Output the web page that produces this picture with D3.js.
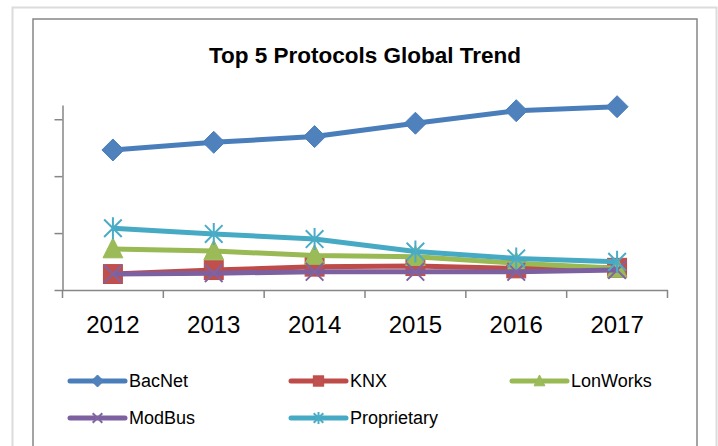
<!DOCTYPE html>
<html>
<head>
<meta charset="utf-8">
<script src="https://cdn.jsdelivr.net/npm/d3@7"></script>
<style>
  body { margin: 0; background: #fff; }
  text { font-family: "Liberation Sans", Arial, sans-serif; fill: #000; }
</style>
</head>
<body>
<script>
// data
var years = ["2012", "2013", "2014", "2015", "2016", "2017"]
var seriesNames = ["BacNet", "KNX", "LonWorks", "ModBus", "Proprietary"]
var bacnet = [49.2, 51.9, 53.9, 58.6, 63.0, 64.4]
var knx = [5.6, 7.0, 8.2, 8.4, 7.6, 7.8]
var lonworks = [14.4, 13.7, 12.1, 11.7, 9.4, 7.6]
var modbus = [5.6, 5.9, 6.4, 6.4, 6.4, 7.0]
var proprietary = [21.7, 19.7, 17.9, 13.5, 11.1, 9.9]
var yTicks = [0, 20, 40, 60]

var lineColors = ["#4a7ebb", "#be4b48", "#98b954", "#7d60a0", "#46aac5"]
var fillColors = ["#4f81bd", "#c0504d", "#9bbb59", "#8064a2", "#4bacc6"]
var markers = ["diamond", "square", "triangle", "x", "star"]

var width = 718, height = 446

var svg = d3.select("body").append("svg")
    .attr("width", width)
    .attr("height", height)

// frames
svg.append("rect")
    .attr("x", 12.5).attr("y", 7.5)
    .attr("width", 704).attr("height", 470)
    .attr("fill", "#fff")
    .attr("stroke", "#dcdcdc").attr("stroke-width", 2)
svg.append("rect")
    .attr("x", 33).attr("y", 19)
    .attr("width", 664).attr("height", 460)
    .attr("fill", "#fff")
    .attr("stroke", "#868686").attr("stroke-width", 1.5)

svg.append("text")
    .attr("x", 365).attr("y", 63)
    .attr("text-anchor", "middle")
    .attr("font-size", "22.5px")
    .attr("font-weight", "bold")
    .text("Top 5 Protocols Global Trend")

var x = d3.scaleBand().domain(years).range([62.5, 667.5]).padding(0)
var y = d3.scaleLinear().domain([0, 65]).range([290, 105])

var axisColor = "#868686"

var yAxis = svg.append("g")
    .attr("transform", "translate(62.5,0)")
    .call(d3.axisLeft(y).tickValues(yTicks).tickSize(8).tickSizeOuter(0).tickFormat(""))
yAxis.selectAll("path, line").attr("stroke", axisColor).attr("stroke-width", 1.5)

var xAxis = svg.append("g")
    .attr("transform", "translate(0,290)")
    .call(d3.axisBottom(x).tickSize(0).tickSizeOuter(0).tickPadding(26))
xAxis.select(".domain").attr("stroke", axisColor).attr("stroke-width", 1.5)
xAxis.selectAll("text")
    .attr("font-size", "24px")
    .attr("font-family", "Liberation Sans, Arial, sans-serif")
    .attr("fill", "#000")

// category boundary ticks
var bounds = years.map(function(d){ return x(d) }).concat([x.range()[1]])
xAxis.selectAll(".bound")
    .data(bounds).enter()
    .append("line")
    .attr("class", "bound")
    .attr("x1", function(d){ return d }).attr("x2", function(d){ return d })
    .attr("y1", 0).attr("y2", 8)
    .attr("stroke", axisColor).attr("stroke-width", 1.5)

function drawMarker(g, type, s, i) {
    var fill = fillColors[i], stroke = lineColors[i]
    if (type == "diamond") {
        g.append("path").attr("d", "M0," + (-s) + "L" + s + ",0L0," + s + "L" + (-s) + ",0Z")
            .attr("fill", fill).attr("stroke", stroke).attr("stroke-width", 1)
    } else if (type == "square") {
        var h = s * 0.86
        g.append("rect").attr("x", -h).attr("y", -h).attr("width", 2 * h).attr("height", 2 * h)
            .attr("fill", fill).attr("stroke", stroke).attr("stroke-width", 1)
    } else if (type == "triangle") {
        g.append("path").attr("d", "M0," + (-s) + "L" + (s * 0.9) + "," + (s * 0.8) + "L" + (-s * 0.9) + "," + (s * 0.8) + "Z")
            .attr("fill", fill).attr("stroke", stroke).attr("stroke-width", 1)
    } else if (type == "x") {
        var k = s * 0.8
        g.append("path").attr("d", "M" + (-k) + "," + (-k) + "L" + k + "," + k + "M" + k + "," + (-k) + "L" + (-k) + "," + k)
            .attr("fill", "none").attr("stroke", fill).attr("stroke-width", 2)
    } else if (type == "star") {
        var k2 = s * 0.8
        g.append("path").attr("d", "M" + (-k2) + "," + (-k2) + "L" + k2 + "," + k2 + "M" + k2 + "," + (-k2) + "L" + (-k2) + "," + k2 + "M0," + (-s) + "L0," + s)
            .attr("fill", "none").attr("stroke", fill).attr("stroke-width", 2)
    }
}

var allSeries = [bacnet, knx, lonworks, modbus, proprietary]

var line = d3.line()
    .x(function(d, i){ return x(years[i]) + x.bandwidth() / 2 })
    .y(function(d){ return y(d) })

allSeries.forEach(function(vals, i) {
    var g = svg.append("g").attr("class", "series")
    g.append("path")
        .datum(vals)
        .attr("d", line)
        .attr("fill", "none")
        .attr("stroke", lineColors[i])
        .attr("stroke-width", 5)
        .attr("stroke-linejoin", "round")
    g.selectAll(".m")
        .data(vals).enter()
        .append("g")
        .attr("class", "m")
        .attr("transform", function(d, j){ return "translate(" + (x(years[j]) + x.bandwidth() / 2) + "," + y(d) + ")" })
        .each(function(){ drawMarker(d3.select(this), markers[i], 11, i) })
})

// legend
var legendPos = [[70, 381], [291, 381], [512, 381], [70, 418], [291, 418]]
var legend = svg.append("g").attr("class", "legend")
    .selectAll("g")
    .data(seriesNames).enter()
    .append("g")
    .attr("transform", function(d, i){ return "translate(" + legendPos[i] + ")" })

legend.append("line")
    .attr("x1", 0).attr("x2", 55)
    .attr("y1", 0).attr("y2", 0)
    .attr("stroke", function(d, i){ return lineColors[i] })
    .attr("stroke-width", 5)
    .attr("stroke-linecap", "round")
legend.each(function(d, i) {
    var m = d3.select(this).append("g").attr("transform", "translate(27.5,0)")
    drawMarker(m, markers[i], 6, i)
})
legend.append("text")
    .attr("x", 59)
    .attr("y", 0)
    .attr("dy", "0.36em")
    .attr("font-size", "18px")
    .text(function(d){ return d })
</script>
</body>
</html>
